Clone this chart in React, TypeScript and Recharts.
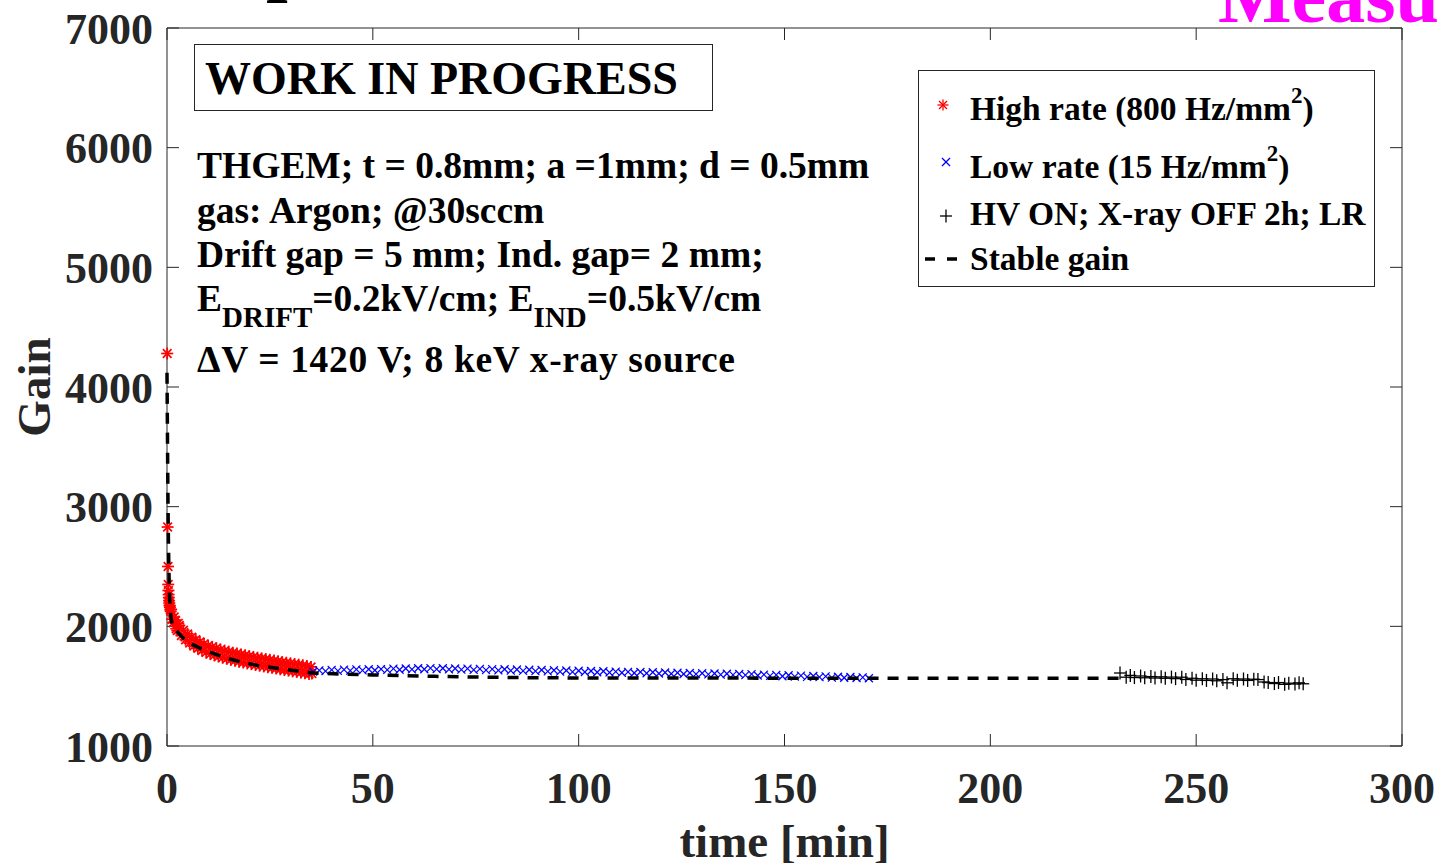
import { ComposedChart, Scatter, Line, XAxis, YAxis, Legend } from "recharts"

const FONT = "'Liberation Serif', 'Times New Roman', serif"
const AXIS_COLOR = "#262626"

// gain vs time, [time (min), gain]
const highRate: [number, number][] = [
  [0.05, 4280], [0.15, 2830], [0.25, 2500], [0.3, 2350], [0.35, 2300], [0.4, 2265],
  [0.45, 2240], [0.5, 2215], [0.55, 2195], [0.6, 2175], [0.7, 2160], [0.8, 2140],
  [0.9, 2125], [1.0, 2142], [1.25, 2060], [1.5, 2030], [1.75, 2078], [2.0, 2052],
  [2.25, 1980], [2.5, 1965], [2.75, 2025], [3.0, 2007], [3.5, 1923], [4.0, 1967],
  [4.5, 1888], [5.0, 1937], [5.5, 1860], [6.0, 1910], [6.5, 1835], [7.0, 1889],
  [7.5, 1816], [8.0, 1870], [8.5, 1798], [9.0, 1854], [9.5, 1782], [10, 1838],
  [10.5, 1769], [11, 1828], [11.5, 1758], [12, 1817], [12.5, 1748], [13, 1806],
  [13.5, 1738], [14, 1797], [14.5, 1729], [15, 1788], [15.5, 1720], [16, 1780],
  [16.5, 1713], [17, 1773], [17.5, 1705], [18, 1765], [18.5, 1698], [19, 1758],
  [19.5, 1690], [20, 1751], [20.5, 1684], [21, 1744], [21.5, 1677], [22, 1738],
  [22.5, 1671], [23, 1732], [23.5, 1665], [24, 1726], [24.5, 1659], [25, 1720],
  [25.5, 1653], [26, 1714], [26.5, 1647], [27, 1708], [27.5, 1641], [28, 1701],
  [28.5, 1635], [29, 1696], [29.5, 1630], [30, 1691], [30.5, 1624], [31, 1685],
  [31.5, 1619], [32, 1680], [32.5, 1613], [33, 1674], [33.5, 1607], [34, 1668],
  [34.5, 1601], [35, 1661], [35.2, 1606],
]

const lowRate: [number, number][] = [
  [35.5, 1622], [37, 1632], [38.5, 1626], [40, 1636], [41.5, 1628], [43, 1638],
  [44.5, 1630], [46, 1640], [47.5, 1632], [49, 1641], [50.5, 1633], [52, 1643],
  [53.5, 1636], [55, 1646], [56.5, 1637], [58, 1648], [59.5, 1640], [61, 1650],
  [62.5, 1641], [64, 1651], [65.5, 1642], [67, 1650], [68.5, 1640], [70, 1648],
  [71.5, 1638], [73, 1646], [74.5, 1636], [76, 1645], [77.5, 1634], [79, 1643],
  [80.5, 1632], [82, 1641], [83.5, 1630], [85, 1639], [86.5, 1628], [88, 1637],
  [89.5, 1626], [91, 1635], [92.5, 1624], [94, 1633], [95.5, 1622], [97, 1631],
  [98.5, 1620], [100, 1629], [101.5, 1618], [103, 1627], [104.5, 1616], [106, 1625],
  [107.5, 1614], [109, 1622], [110.5, 1612], [112, 1620], [113.5, 1610], [115, 1618],
  [116.5, 1608], [118, 1616], [119.5, 1606], [121, 1614], [122.5, 1604], [124, 1612],
  [125.5, 1602], [127, 1610], [128.5, 1600], [130, 1608], [131.5, 1598], [133, 1606],
  [134.5, 1596], [136, 1604], [137.5, 1594], [139, 1602], [140.5, 1592], [142, 1600],
  [143.5, 1589], [145, 1597], [146.5, 1586], [148, 1594], [149.5, 1583], [151, 1591],
  [152.5, 1580], [154, 1588], [155.5, 1578], [157, 1585], [158.5, 1575], [160, 1582],
  [161.5, 1572], [163, 1579], [164.5, 1570], [166, 1577], [167.5, 1568], [169, 1574],
  [170.5, 1566],
]

const xrayOff: [number, number][] = [
  [231.5, 1610], [233, 1575], [234, 1590], [235, 1572], [236.5, 1585], [237.5, 1570],
  [239, 1580], [240, 1568], [241.5, 1578], [242.5, 1566], [244, 1576], [245, 1563],
  [246.5, 1575], [247.5, 1556], [249, 1566], [250, 1550], [251.5, 1562], [252.5, 1548],
  [254, 1560], [255, 1545], [256.5, 1555], [257.5, 1528], [259, 1562], [260, 1550],
  [261.5, 1560], [262.5, 1548], [264, 1558], [265, 1555], [266.5, 1535], [267.5, 1530],
  [269, 1522], [270, 1530], [271.5, 1515], [272.5, 1525], [274, 1518], [275, 1528],
  [276, 1520],
]

const stableGain: [number, number][] = [
  [0, 4120], [0.1, 3650], [0.2, 3200], [0.3, 2850], [0.45, 2500], [0.6, 2280],
  [0.8, 2140], [1.0, 2070], [1.5, 2000], [2.4, 1960], [4, 1900], [5.6, 1860],
  [8, 1818], [10.4, 1785], [15.3, 1727], [21, 1680], [26.7, 1650], [31.8, 1627],
  [35, 1613], [50, 1594], [65, 1582], [80, 1574], [100, 1569], [150, 1567], [232, 1566],
]

const xTicks = [0, 50, 100, 150, 200, 250, 300]
const yTicks = [1000, 2000, 3000, 4000, 5000, 6000, 7000]

const infoLines = [
  "THGEM; t = 0.8mm; a =1mm; d = 0.5mm",
  "gas: Argon; @30sccm",
  "Drift gap = 5 mm; Ind. gap= 2 mm;",
]

const toPoints = (rows: [number, number][]) => rows.map(([t, g]) => ({ t, g }))

const Asterisk = ({ cx, cy, r = 5.5, w = 1.3 }: any) => {
  const d = r * 0.72
  return (
    <g stroke="#ff0000" strokeWidth={w}>
      <line x1={cx - r} y1={cy} x2={cx + r} y2={cy} />
      <line x1={cx} y1={cy - r} x2={cx} y2={cy + r} />
      <line x1={cx - d} y1={cy - d} x2={cx + d} y2={cy + d} />
      <line x1={cx - d} y1={cy + d} x2={cx + d} y2={cy - d} />
    </g>
  )
}

const Cross = ({ cx, cy }: any) => (
  <g stroke="#0000ff" strokeWidth={1.2}>
    <line x1={cx - 4} y1={cy - 4} x2={cx + 4} y2={cy + 4} />
    <line x1={cx - 4} y1={cy + 4} x2={cx + 4} y2={cy - 4} />
  </g>
)

const Plus = ({ cx, cy }: any) => (
  <g stroke="#000" strokeWidth={1.3}>
    <line x1={cx - 6} y1={cy} x2={cx + 6} y2={cy} />
    <line x1={cx} y1={cy - 6.5} x2={cx} y2={cy + 6.5} />
  </g>
)

// box axes: tick marks only, no labels
const NoLabel = () => <g />

const tickStyle = { fontSize: 44, fontWeight: 700, fontFamily: FONT, fill: AXIS_COLOR }
const textStyle = { fontFamily: FONT, fontWeight: 700 }

function LegendBox() {
  return (
    <svg width={457} height={217} style={textStyle}>
      <rect x={0.5} y={0.5} width={456} height={216} fill="#fff" stroke={AXIS_COLOR} />
      <Asterisk cx={25} cy={35} />
      <text x={52} y={50} fontSize={33.5}>
        High rate (800 Hz/mm<tspan dy={-17} fontSize={23}>2</tspan>
        <tspan dy={17}>)</tspan>
      </text>
      <Cross cx={28} cy={92} />
      <text x={52} y={108} fontSize={33.5}>
        Low rate (15 Hz/mm<tspan dy={-17} fontSize={23}>2</tspan>
        <tspan dy={17}>)</tspan>
      </text>
      <Plus cx={28} cy={146} />
      <text x={52} y={155} fontSize={33.5}>HV ON; X-ray OFF 2h; LR</text>
      <line x1={7} y1={189} x2={39} y2={189} stroke="#000" strokeWidth={3.5} strokeDasharray="10 12" />
      <text x={52} y={200} fontSize={33.5}>Stable gain</text>
    </svg>
  )
}

export default function App() {
  return (
    <div style={{ position: "absolute", left: 0, top: 0, width: 1438, height: 863, background: "#fff" }}>
      <ComposedChart width={1438} height={863} margin={{ top: 27, right: 35, bottom: 0, left: 47 }}>
        <XAxis
          xAxisId="bottom"
          type="number"
          dataKey="t"
          domain={[0, 300]}
          ticks={xTicks}
          interval={0}
          height={117}
          tickSize={-12}
          tickMargin={38}
          stroke={AXIS_COLOR}
          tick={tickStyle}
          label={{
            value: "time [min]",
            position: "insideBottom",
            offset: 6,
            style: { ...textStyle, fontSize: 47, fill: AXIS_COLOR },
          }}
        />
        <XAxis
          xAxisId="top"
          orientation="top"
          type="number"
          dataKey="t"
          domain={[0, 300]}
          ticks={xTicks}
          interval={0}
          height={1}
          tickSize={-12}
          stroke={AXIS_COLOR}
          tick={NoLabel}
        />
        <YAxis
          yAxisId="left"
          type="number"
          dataKey="g"
          domain={[1000, 7000]}
          ticks={yTicks}
          interval={0}
          width={120}
          tickSize={-12}
          tickMargin={26}
          stroke={AXIS_COLOR}
          tick={tickStyle}
          label={{
            content: ({ viewBox }: any) => {
              const x = viewBox.x + 3
              const y = viewBox.y + viewBox.height / 2
              return (
                <text
                  x={x}
                  y={y}
                  transform={`rotate(-90 ${x} ${y})`}
                  textAnchor="middle"
                  fontSize={47}
                  fill={AXIS_COLOR}
                  style={textStyle}
                >
                  Gain
                </text>
              )
            },
          }}
        />
        <YAxis
          yAxisId="right"
          orientation="right"
          type="number"
          dataKey="g"
          domain={[1000, 7000]}
          ticks={yTicks}
          interval={0}
          width={1}
          tickSize={-12}
          stroke={AXIS_COLOR}
          tick={NoLabel}
        />
        <Legend
          layout="vertical"
          align="center"
          verticalAlign="middle"
          content={() => <LegendBox />}
          wrapperStyle={{ left: 918, top: 70, width: 457, height: 217 }}
        />
        <Scatter
          name="High rate"
          xAxisId="bottom"
          yAxisId="left"
          data={toPoints(highRate)}
          shape={(p: any) => <Asterisk cx={p.cx} cy={p.cy} r={6} w={1.7} />}
          isAnimationActive={false}
        />
        <Scatter
          name="Low rate"
          xAxisId="bottom"
          yAxisId="left"
          data={toPoints(lowRate)}
          shape={(p: any) => <Cross cx={p.cx} cy={p.cy} />}
          isAnimationActive={false}
        />
        {/* same domains as bottom/left, so this series also anchors the box axes */}
        <Scatter
          name="HV ON; X-ray OFF"
          xAxisId="top"
          yAxisId="right"
          data={toPoints(xrayOff)}
          shape={(p: any) => <Plus cx={p.cx} cy={p.cy} />}
          isAnimationActive={false}
        />
        <Line
          name="Stable gain"
          xAxisId="bottom"
          yAxisId="left"
          data={toPoints(stableGain)}
          dataKey="g"
          type="monotone"
          stroke="#000"
          strokeWidth={3.5}
          strokeDasharray="11 9"
          dot={false}
          zIndex={700}
          isAnimationActive={false}
        />
      </ComposedChart>

      {/* annotations drawn over the plot */}
      <svg
        width={1438}
        height={863}
        style={{ position: "absolute", left: 0, top: 0, pointerEvents: "none", ...textStyle }}
      >
        <text x={266} y={-14} fontSize={78} fill="#000">p</text>
        <text x={1218} y={22} fontSize={78} fill="#ff00ff">Measu</text>
        <rect x={194.5} y={44.5} width={518} height={66} fill="#fff" stroke={AXIS_COLOR} />
        <text x={205} y={94} fontSize={46}>WORK IN PROGRESS</text>
        {infoLines.map((line, i) => (
          <text key={line} x={197} y={178 + i * 44.5} fontSize={37.5}>
            {line}
          </text>
        ))}
        <text x={197} y={311} fontSize={37.5}>
          E<tspan dy={16} fontSize={29}>DRIFT</tspan>
          <tspan dy={-16}>=0.2kV/cm; E</tspan>
          <tspan dy={16} fontSize={29}>IND</tspan>
          <tspan dy={-16}>=0.5kV/cm</tspan>
        </text>
        <text x={197} y={372} fontSize={37.5} textLength={538} lengthAdjust="spacing">
          ΔV = 1420 V; 8 keV x-ray source
        </text>
      </svg>
    </div>
  )
}
